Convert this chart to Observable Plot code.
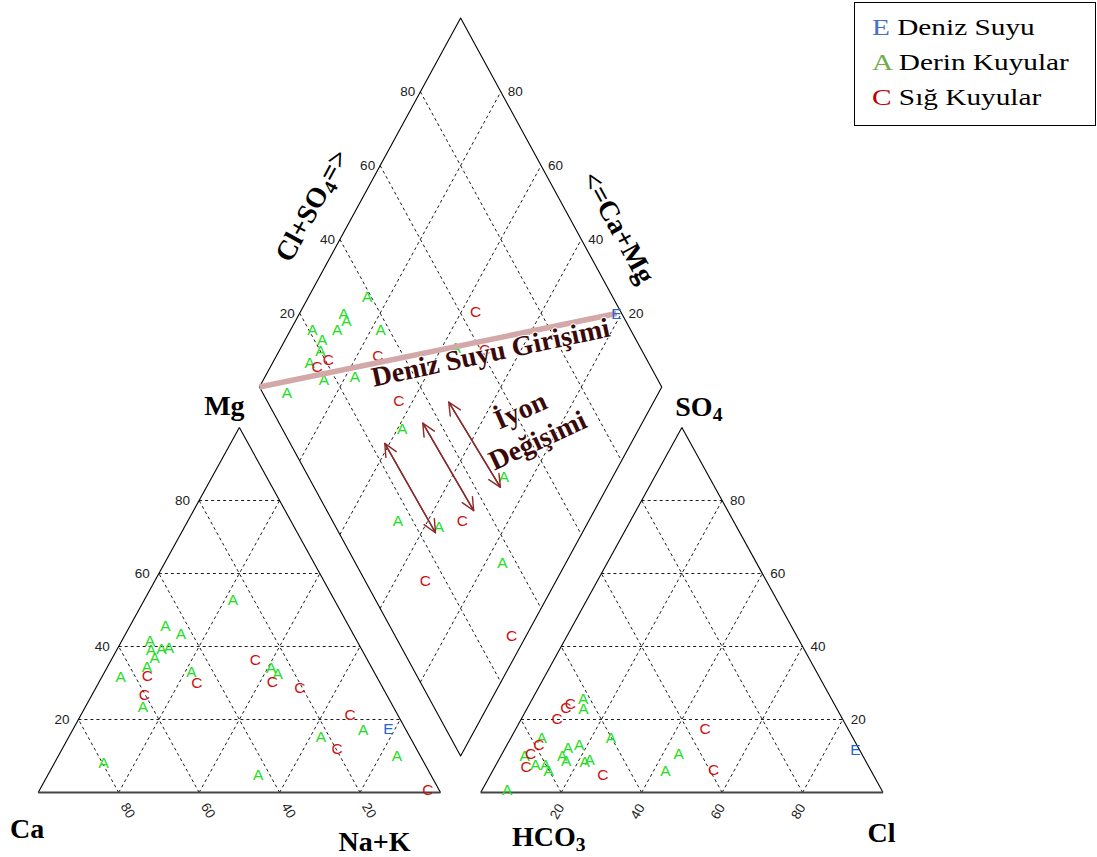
<!DOCTYPE html>
<html><head><meta charset="utf-8">
<script src="https://cdn.jsdelivr.net/npm/d3@7"></script>
<script src="https://cdn.jsdelivr.net/npm/@observablehq/plot@0.6"></script>
<style>
body{margin:0;background:#fff;}
#wrap{position:relative;width:1097px;height:857px;}
#legend{position:absolute;left:854px;top:2px;width:242px;height:124px;border:1px solid #000;box-sizing:border-box;
  font-family:"Liberation Serif","Times New Roman",serif;font-size:24px;line-height:35px;padding:7px 0 0 17px;color:#000;background:#fff;overflow:hidden;}
#legend div{white-space:nowrap;transform:scaleX(1.22);transform-origin:0 50%;}
</style></head>
<body><div id="wrap"><div id="chart"></div><div id="legend"></div></div>
<script>
// ---------- data (percent values) ----------
const gridLevels = [20, 40, 60, 80];

// cation triangle: [Mg %, Na+K %]
const derinCation = [[52.8,22.0],[45.6,8.8],[43.5,13.7],[41.5,7.0],[38.9,8.6],[39.4,10.9],[39.6,12.7],[36.9,10.5],[34.3,9.9],[31.6,4.7],[33.0,21.6],[23.4,14.3],[34.2,40.8],[32.5,43.3],[15.3,62.6],[17.0,72.3],[10.1,84.1],[8.0,12.3],[4.7,52.3]];
const sigCation = [[36.2,35.9],[31.9,11.2],[29.9,24.5],[26.8,13.0],[30.4,43.0],[28.7,50.7],[21.1,67.0],[12.0,68.3],[0.7,96.5]];
const denizCation = [[17.3,78.4]];

// anion triangle: [SO4 %, Cl %]
const derinAnion = [[25.7,12.6],[22.9,14.1],[14.9,24.9],[14.9,7.7],[9.9,6.0],[7.6,9.8],[7.6,12.3],[6.0,13.9],[12.1,15.6],[10.1,15.2],[12.9,18.0],[8.5,17.0],[8.3,21.7],[8.8,22.7],[0.8,6.2],[10.6,43.9],[6.0,42.9]];
const sigAnion = [[23.1,9.6],[24.3,10.1],[20.0,9.0],[13.1,7.9],[10.6,7.1],[7.1,7.7],[4.7,28.0],[17.5,47.0],[6.2,54.8]];
const denizAnion = [[11.5,87.4]];

// diamond: [Na+K %, Cl+SO4 %]
const derinDiamond = [[14.6,39.0],[11.0,30.9],[12.7,30.5],[5.5,20.8],[11.6,27.0],[22.5,37.8],[9.3,21.9],[10.3,20.0],[9.2,15.7],[15.1,16.9],[22.4,25.0],[7.7,6.0],[43.5,54.0],[41.1,29.8],[73.0,48.5],[52.5,16.3],[63.6,25.6],[84.2,36.6]];
const sigDiamond = [[43.6,63.9],[25.2,33.7],[11.6,17.1],[13.5,20.7],[51.0,60.9],[36.5,32.8],[68.5,32.3],[67.5,15.0],[96.5,28.9]];
const denizDiamond = [[78.8,98.7]];

// ion-exchange arrows in the diamond: [Na+K start, Cl+SO4 start, Na+K end, Cl+SO4 end]
const ionArrows = [[38.8,23.5,63.5,24.0],[45.5,35.7,70.0,36.5],[49.1,45.0,73.5,46.3]];

// annotations in the diamond: text, Na+K %, Cl+SO4 %, angle
const annotations = [
  {text:"Deniz Suyu Girişimi", n:52.8, a:62.1, angle:-12},
  {text:"İyon", n:68.1, a:61.7, angle:-24},
  {text:"Değişimi", n:76.4, a:61.9, angle:-25}
];

const legendCodes = ["E","A","C"];
const legendLabels = ["Deniz Suyu","Derin Kuyular","Sığ Kuyular"];
const legendColors = ["#4472c4","#70ad47","#c00000"];
const pointColors = {A:"#22dd22", C:"#cc1111", E:"#1f66d6"};

// ---------- geometry ----------
const STRETCH = 1.011;                       // diamond vertical stretch of the reference
const cat = (mg, nak) => [nak + mg / 2, mg];
const ani = (so4, cl) => [110 + cl + so4 / 2, so4];
const dia = (n, a) => [55 + (a + n) / 2, 10 + STRETCH * (100 + a - n)];
const seg = (p, q) => ({x1:p[0], y1:p[1], x2:q[0], y2:q[1]});
const pts = (arr, f) => arr.map(([p, q]) => { const [x, y] = f(p, q); return {x, y}; });

const grid = [];
for (const v of gridLevels) {
  grid.push(seg(cat(v,0), cat(v,100-v)), seg(cat(0,v), cat(100-v,v)), seg(cat(0,100-v), cat(100-v,0)));
  grid.push(seg(ani(v,0), ani(v,100-v)), seg(ani(0,v), ani(100-v,v)), seg(ani(0,100-v), ani(100-v,0)));
  grid.push(seg(dia(0,v), dia(100,v)), seg(dia(v,0), dia(v,100)));
}
const diamondOutline = [dia(0,0), dia(0,100), dia(100,100), dia(100,0), dia(0,0)].map(([x,y]) => ({x,y}));
const outlineSides = [seg(cat(0,0),cat(100,0)), seg(cat(100,0),cat(0,100)), seg(ani(0,0),ani(100,0)), seg(ani(100,0),ani(0,100))];
const bases = [seg(cat(0,0),cat(0,100)), seg(ani(0,0),ani(0,100))];

const P = (v) => ({x: v[0], y: v[1]});
const ptFont = {fontSize:15.5, fontFamily:"'Liberation Sans', Arial, sans-serif"};
const tickFont = {fontSize:13.5, fontFamily:"'Liberation Sans', Arial, sans-serif", fill:"#222"};
const lblFont = {fontSize:28, fontFamily:"'Liberation Serif','Times New Roman',serif", fontWeight:"bold", fill:"#000"};
const ticks = (f) => gridLevels.map(v => ({...P(f(v)), t: String(v)}));

const greenPts = [...pts(derinCation,cat), ...pts(derinAnion,ani), ...pts(derinDiamond,dia)];
const redPts = [...pts(sigCation,cat), ...pts(sigAnion,ani), ...pts(sigDiamond,dia)];
const bluePts = [...pts(denizCation,cat), ...pts(denizAnion,ani), ...pts(denizDiamond,dia)];
const arrowsFwd = ionArrows.map(([n1,a1,n2,a2]) => seg(dia(n1,a1), dia(n2,a2)));
const arrowsBack = ionArrows.map(([n1,a1,n2,a2]) => seg(dia(n2,a2), dia(n1,a1)));
const seaLine = [seg(dia(0,0), dia(...denizDiamond[0]))];

const chart = Plot.plot({
  width: 1097, height: 857, margin: 0,
  x: {domain: [-37.7/4.023, (1097-37.7)/4.023], axis: null},
  y: {domain: [-65/3.65, 792/3.65], axis: null},
  marks: [
    Plot.link(grid, {x1:"x1", y1:"y1", x2:"x2", y2:"y2", stroke:"#000", strokeWidth:0.9, strokeDasharray:"3,3"}),
    Plot.line(diamondOutline, {x:"x", y:"y", stroke:"#000", strokeWidth:1.1}),
    Plot.link(outlineSides, {x1:"x1", y1:"y1", x2:"x2", y2:"y2", stroke:"#000", strokeWidth:1.1}),
    Plot.link(bases, {x1:"x1", y1:"y1", x2:"x2", y2:"y2", stroke:"#444", strokeWidth:1.8}),
    // tick labels
    Plot.text(ticks(v => cat(v,0)), {x:"x", y:"y", text:"t", textAnchor:"end", dx:-9, ...tickFont}),
    Plot.text(ticks(v => cat(0,100-v)), {x:"x", y:"y", text:"t", rotate:60, dx:9, dy:18, ...tickFont}),
    Plot.text(ticks(v => ani(0,v)), {x:"x", y:"y", text:"t", rotate:-60, dx:-4, dy:19, ...tickFont}),
    Plot.text(ticks(v => ani(v,100-v)), {x:"x", y:"y", text:"t", textAnchor:"start", dx:8, ...tickFont}),
    Plot.text(ticks(v => dia(0,v)), {x:"x", y:"y", text:"t", textAnchor:"end", dx:-5, ...tickFont}),
    Plot.text(ticks(v => dia(100-v,100)), {x:"x", y:"y", text:"t", textAnchor:"start", dx:7, ...tickFont}),
    // samples
    Plot.text(greenPts, {x:"x", y:"y", text:() => "A", fill:pointColors.A, ...ptFont}),
    Plot.text(redPts, {x:"x", y:"y", text:() => "C", fill:pointColors.C, ...ptFont}),
    Plot.link(seaLine, {x1:"x1", y1:"y1", x2:"x2", y2:"y2", stroke:"#d3a8a8", strokeWidth:5.5}),
    Plot.text(bluePts, {x:"x", y:"y", text:() => "E", fill:pointColors.E, ...ptFont}),
    Plot.arrow(arrowsFwd, {x1:"x1", y1:"y1", x2:"x2", y2:"y2", stroke:"#8b2a2a", strokeWidth:1.4, headLength:15, headAngle:50}),
    Plot.arrow(arrowsBack, {x1:"x1", y1:"y1", x2:"x2", y2:"y2", stroke:"#8b2a2a", strokeWidth:1.4, headLength:15, headAngle:50}),
    ...annotations.map(d => Plot.text([d], {x: e => dia(e.n,e.a)[0], y: e => dia(e.n,e.a)[1], text:"text", rotate:d.angle,
      fontSize:28, fontWeight:"bold", fontFamily:"'Liberation Serif','Times New Roman',serif", fill:"#3a0a0a", stroke:"#fff", strokeWidth:2})),
    // axis names
    Plot.text([P(cat(0,0))], {x:"x", y:"y", text:() => "Ca", lineAnchor:"bottom", dx:-11, dy:45, ...lblFont}),
    Plot.text([P(cat(0,100))], {x:"x", y:"y", text:() => "Na+K", lineAnchor:"bottom", dx:-66, dy:58, ...lblFont}),
    Plot.text([P(cat(100,0))], {x:"x", y:"y", text:() => "Mg", lineAnchor:"bottom", dx:-15, dy:-13, ...lblFont}),
    Plot.text([P(ani(0,0))], {x:"x", y:"y", text:() => "HCO3", lineAnchor:"bottom", dx:68, dy:53, ...lblFont}),
    Plot.text([P(ani(0,100))], {x:"x", y:"y", text:() => "Cl", lineAnchor:"bottom", dx:-1.5, dy:49, ...lblFont}),
    Plot.text([P(ani(100,0))], {x:"x", y:"y", text:() => "SO4", lineAnchor:"bottom", dx:17, dy:-12, ...lblFont}),
    Plot.text([P(dia(0,50))], {x:"x", y:"y", text:() => "Cl+SO4=>", rotate:-61.4, dx:-48, dy:3, ...lblFont}),
    Plot.text([P(dia(50,100))], {x:"x", y:"y", text:() => "<=Ca+Mg", rotate:61.4, dx:57, dy:25, ...lblFont})
  ]
});

// chemical subscripts
(function subscripts(svg) {
  const ns = "http://www.w3.org/2000/svg";
  svg.querySelectorAll("text").forEach(t => {
    if (t.children.length) return;
    const s = t.textContent;
    if (!/[A-Za-z]\d/.test(s)) return;
    const g = t.closest("[font-size]");
    const fs = g ? parseFloat(g.getAttribute("font-size")) : 16;
    const sh = fs * 0.18;
    t.textContent = "";
    s.split(/(\d)/).forEach((p, i) => {
      if (!p) return;
      const ts = document.createElementNS(ns, "tspan");
      if (i % 2) { ts.setAttribute("font-size", fs * 0.7); ts.setAttribute("dy", sh); }
      else if (i > 0) { ts.setAttribute("dy", -sh); }
      ts.textContent = p;
      t.appendChild(ts);
    });
  });
})(chart);

document.getElementById("chart").appendChild(chart);

const lg = document.getElementById("legend");
legendCodes.forEach((c, i) => {
  const row = document.createElement("div");
  const sp = document.createElement("span");
  sp.style.color = legendColors[i];
  sp.textContent = c;
  row.appendChild(sp);
  row.appendChild(document.createTextNode(" " + legendLabels[i]));
  lg.appendChild(row);
});
</script></body></html>
